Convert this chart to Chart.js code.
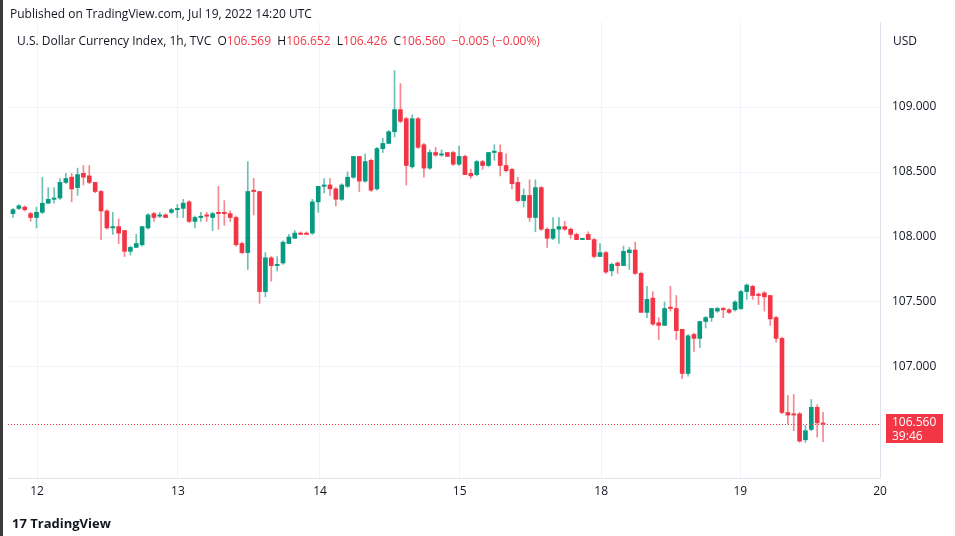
<!DOCTYPE html>
<html>
<head>
<meta charset="utf-8">
<script src="https://cdn.jsdelivr.net/npm/chart.js@4"></script>
<style>
  body { margin: 0; background: #fff; font-family: "Open Sans", "DejaVu Sans", sans-serif; }
  #wrap { position: relative; width: 955px; height: 536px; overflow: hidden; }
  canvas { position: absolute; left: 0; top: 0; }
  .txt { position: absolute; font-size: 12px; color: #131722; white-space: nowrap; }
  .red { color: #f23645; }
  #strip { position: absolute; left: 0; top: 0; width: 3px; height: 536px; background: #3c3c3c; }
  #lastbox { position: absolute; left: 886px; top: 414px; width: 57px; height: 29px; background: #f23645; color: #fff;
    font-size: 12px; line-height: 14px; padding-top: 1px; box-sizing: border-box; text-align: left; padding-left: 6px; }
</style>
</head>
<body>
<div id="wrap">
  <canvas id="c" width="955" height="536"></canvas>
  <div id="strip"></div>
  <div class="txt" style="left:10px;top:5px">Published on TradingView.com, Jul 19, 2022 14:20 UTC</div>
  <div class="txt" style="left:17px;top:32px">U.S. Dollar Currency Index, 1h, TVC&nbsp;&nbsp;O<span class="red">106.569</span>&nbsp;&nbsp;H<span class="red">106.652</span>&nbsp;&nbsp;L<span class="red">106.426</span>&nbsp;&nbsp;C<span class="red">106.560</span>&nbsp;&nbsp;<span class="red">−0.005 (−0.00%)</span></div>
  <div class="txt" style="left:893px;top:32px">USD</div>
  <div id="lastbox">106.560<br>39:46</div>
  <div class="txt" style="left:12px;top:514px;font-weight:bold;font-size:13px">17 TradingView</div>
</div>
<script>
// hourly candles, Jul 11 - Jul 19 2022
const opens = [108.18,108.22,108.23,108.18,108.15,108.19,108.26,108.29,108.30,108.42,108.46,108.38,108.49,108.47,108.42,108.35,108.20,108.07,108.08,108.05,
  107.89,107.92,107.94,108.07,108.18,108.16,108.17,108.19,108.21,108.22,108.27,108.12,108.15,108.17,108.15,108.19,108.19,108.18,108.15,107.95,
  107.88,108.36,108.35,107.58,107.84,107.78,107.80,107.95,107.99,108.03,108.03,108.03,108.27,108.39,108.40,108.37,108.29,108.39,108.46,108.62,
  108.43,108.59,108.37,108.68,108.72,108.81,108.98,108.91,108.54,108.91,108.71,108.53,108.65,108.63,108.65,108.65,108.56,108.62,108.49,108.48,
  108.58,108.55,108.65,108.65,108.55,108.52,108.42,108.28,108.32,108.15,108.38,108.06,107.99,108.06,108.08,108.06,108.02,107.98,108.02,107.98,
  107.85,107.88,107.74,107.80,107.78,107.88,107.90,107.72,107.42,107.53,107.34,107.32,107.46,107.45,107.29,106.95,107.25,107.22,107.35,107.38,
  107.43,107.45,107.44,107.44,107.45,107.58,107.62,107.56,107.57,107.55,107.38,107.22,106.65,106.64,106.64,106.44,106.52,106.69,106.569];
const highs = [108.22,108.25,108.24,108.19,108.23,108.46,108.38,108.38,108.45,108.49,108.49,108.53,108.55,108.55,108.42,108.36,108.21,108.19,108.14,108.05,
  107.93,108.02,108.08,108.18,108.19,108.19,108.18,108.22,108.25,108.29,108.28,108.16,108.19,108.19,108.19,108.39,108.28,108.20,108.16,107.96,
  108.58,108.45,108.35,107.88,107.85,107.85,107.97,108.02,108.05,108.04,108.04,108.29,108.39,108.45,108.45,108.38,108.41,108.50,108.62,108.62,
  108.64,108.60,108.69,108.76,108.82,109.28,109.18,108.92,108.94,108.92,108.72,108.67,108.69,108.67,108.65,108.66,108.70,108.63,108.52,108.59,
  108.59,108.65,108.71,108.71,108.64,108.53,108.46,108.37,108.44,108.44,108.39,108.07,108.15,108.15,108.12,108.07,108.03,107.99,108.04,107.99,
  107.95,107.89,107.80,107.81,107.93,107.92,107.96,107.73,107.62,107.58,107.38,107.50,107.62,107.55,107.29,107.25,107.26,107.35,107.39,107.45,
  107.46,107.46,107.45,107.51,107.59,107.64,107.63,107.57,107.58,107.55,107.39,107.23,106.78,106.79,106.65,106.55,106.75,106.71,106.652];
const lows = [108.15,108.21,108.20,108.12,108.07,108.18,108.26,108.26,108.29,108.41,108.27,108.32,108.40,108.41,108.34,107.98,108.06,108.02,107.95,107.85,
  107.86,107.92,107.93,108.06,108.12,108.15,108.15,108.18,108.15,108.15,108.11,108.07,108.12,108.12,108.05,108.06,108.09,108.12,107.93,107.87,
  107.75,108.17,107.49,107.54,107.66,107.74,107.79,107.95,107.99,108.02,108.02,108.02,108.19,108.34,108.32,108.24,108.28,108.38,108.45,108.35,
  108.42,108.35,108.36,108.65,108.72,108.77,108.88,108.40,108.53,108.68,108.46,108.52,108.62,108.62,108.62,108.55,108.55,108.48,108.45,108.47,
  108.52,108.54,108.59,108.47,108.50,108.37,108.27,108.23,108.12,108.04,108.05,107.92,107.98,107.95,108.05,107.99,107.98,107.98,107.98,107.84,
  107.85,107.72,107.70,107.72,107.78,107.75,107.71,107.42,107.38,107.32,107.21,107.32,107.43,107.21,106.91,106.93,107.12,107.15,107.30,107.35,
  107.42,107.38,107.41,107.43,107.44,107.52,107.52,107.48,107.43,107.32,107.19,106.64,106.56,106.51,106.42,106.42,106.51,106.46,106.426];
const closes = [108.21,108.24,108.21,108.15,108.19,108.26,108.29,108.30,108.42,108.45,108.37,108.48,108.46,108.42,108.35,108.20,108.07,108.08,108.03,107.89,
  107.92,107.95,108.08,108.17,108.15,108.17,108.15,108.21,108.22,108.26,108.12,108.15,108.16,108.16,108.18,108.18,108.18,108.15,107.94,107.88,
  108.35,108.35,107.58,107.84,107.78,107.79,107.96,108.00,108.03,108.02,108.02,108.27,108.39,108.40,108.37,108.29,108.40,108.46,108.62,108.43,
  108.58,108.36,108.68,108.72,108.81,108.98,108.89,108.55,108.91,108.69,108.53,108.65,108.63,108.64,108.62,108.56,108.62,108.48,108.47,108.58,
  108.55,108.65,108.66,108.55,108.51,108.41,108.28,108.32,108.15,108.38,108.06,107.99,108.06,108.08,108.06,108.02,107.98,107.99,107.98,107.85,
  107.88,107.73,107.79,107.78,107.89,107.90,107.72,107.42,107.52,107.33,107.32,107.45,107.45,107.28,106.95,107.24,107.22,107.35,107.38,107.45,
  107.45,107.44,107.42,107.50,107.58,107.63,107.55,107.55,107.54,107.37,107.22,106.65,106.63,106.63,106.43,106.51,106.69,106.57,106.560];

const dayLabels = ['12', '13', '14', '15', '18', '19', '20'];
const dayTicks = [4.1, 28.1, 52.3, 76.1, 100.2, 123.9, 147.7];
const priceTicks = [107, 107.5, 108, 108.5, 109];
const lastPrice = 106.560;

const UP = '#089981', DOWN = '#f23645';
const UP_WICK = 'rgba(8,153,129,0.6)', DOWN_WICK = 'rgba(242,54,69,0.6)';

const bodies = opens.map((o, i) => ({ x: i, y: [o, closes[i]] }));
const wicks = opens.map((o, i) => ({ x: i, y: [lows[i], highs[i]] }));
const isUp = ctx => closes[ctx.dataIndex] >= opens[ctx.dataIndex];

const lastLine = {
  id: 'lastLine',
  afterDatasetsDraw(chart) {
    const { ctx, chartArea, scales } = chart;
    const y = Math.round(scales.y.getPixelForValue(lastPrice)) + 0.5;
    ctx.save();
    ctx.strokeStyle = DOWN;
    ctx.lineWidth = 1;
    ctx.setLineDash([1, 2]);
    ctx.beginPath();
    ctx.moveTo(chartArea.left, y);
    ctx.lineTo(chartArea.right, y);
    ctx.stroke();
    ctx.restore();
  }
};

new Chart(document.getElementById('c'), {
  type: 'bar',
  data: {
    datasets: [
      { data: wicks, grouped: false, barThickness: 1, backgroundColor: ctx => isUp(ctx) ? UP_WICK : DOWN_WICK },
      { data: bodies, grouped: false, barThickness: 4, minBarLength: 1, backgroundColor: ctx => isUp(ctx) ? UP : DOWN }
    ]
  },
  options: {
    responsive: false,
    animation: false,
    layout: { padding: { left: 8, top: 22, right: 0, bottom: 28 } },
    plugins: { legend: { display: false }, tooltip: { enabled: false } },
    scales: {
      x: {
        type: 'linear',
        offset: false,
        min: -0.85,
        max: 147.7,
        afterBuildTicks: s => { s.ticks = dayTicks.map(v => ({ value: v })); },
        afterFit: s => { s.height = 30; },
        ticks: {
          autoSkip: false, maxRotation: 0, color: '#131722', font: { size: 12, family: 'Open Sans' }, padding: 6,
          callback: (v, i) => dayLabels[i]
        },
        grid: { color: '#f0f3fa', drawTicks: false, offset: false },
        border: { color: '#e0e3eb' }
      },
      y: {
        position: 'right',
        min: 106.146,
        max: 109.654,
        afterBuildTicks: s => { s.ticks = priceTicks.map(v => ({ value: v })); },
        afterFit: s => { s.width = 75; },
        ticks: {
          color: '#131722', font: { size: 12, family: 'Open Sans' }, padding: 12,
          callback: v => v.toFixed(3)
        },
        grid: { color: '#f0f3fa', drawTicks: false },
        border: { color: '#e0e3eb' }
      }
    }
  },
  plugins: [lastLine]
});
</script>
</body>
</html>
